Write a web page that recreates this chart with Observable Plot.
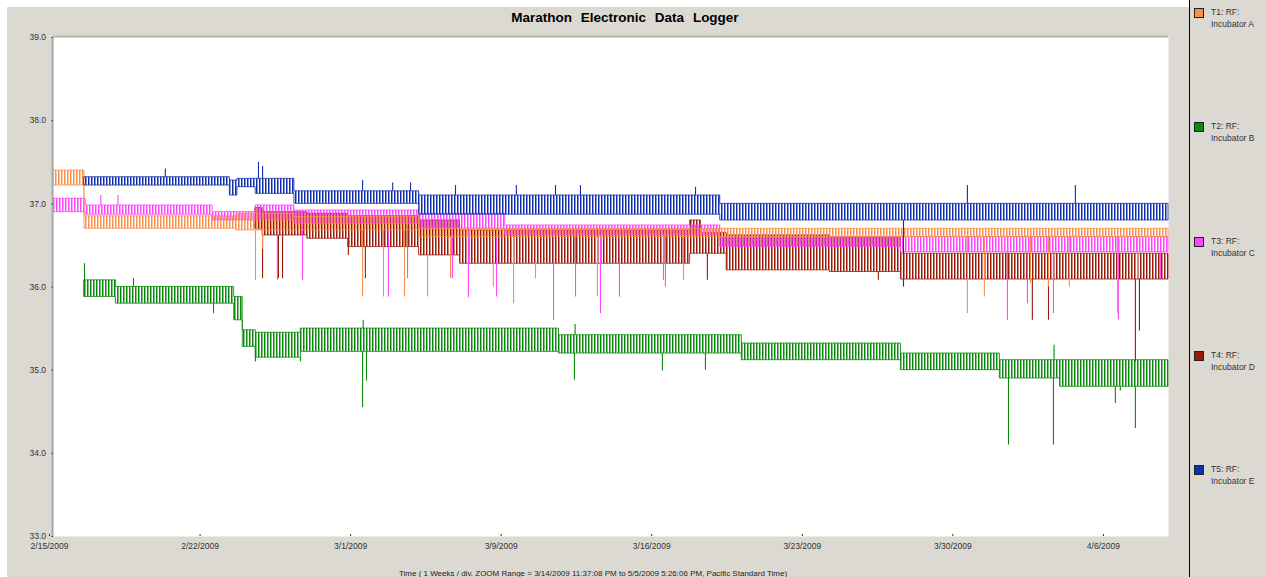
<!DOCTYPE html>
<html><head><meta charset="utf-8">
<script src="https://cdn.jsdelivr.net/npm/d3@7"></script>
<script src="https://cdn.jsdelivr.net/npm/@observablehq/plot@0.6"></script>
<style>
html,body{margin:0;padding:0;background:#fff;width:1266px;height:577px;overflow:hidden;font-family:"Liberation Sans",Arial,sans-serif;}
#panel{position:absolute;left:7px;top:7px;width:1182px;height:570px;background:#dcd9d3;}
#legendPanel{position:absolute;left:1189px;top:0;width:77px;height:577px;background:#dcd9d3;border-left:1.5px solid #000;}
#chart{position:absolute;left:0;top:0;}
#title{position:absolute;top:10px;left:0;width:1250px;text-align:center;font-weight:bold;font-size:13.5px;word-spacing:5px;color:#000;}
#caption{position:absolute;top:569px;left:0;width:1186px;text-align:center;font-size:8px;color:#222;white-space:pre;}
.lg{position:absolute;left:1194px;font-size:8.5px;color:#333;}
.lg .sw{position:absolute;left:0;top:0;width:8px;height:8px;border:1.2px solid #222;}
.lg .l1{position:absolute;left:17px;top:-1px;white-space:nowrap;}
.lg .l2{position:absolute;left:17px;top:11px;white-space:nowrap;}
</style></head>
<body>
<div id="panel"></div>
<div id="legendPanel"></div>
<div id="chart"></div>
<div id="title">Marathon  Electronic  Data  Logger</div>
<div id="caption">Time ( 1 Weeks / div. ZOOM Range = 3/14/2009 11:37:08 PM to 5/5/2009 5:26:06 PM, Pacific Standard Time)</div>
<div id="legend"></div>
<script>
// ---- data (days after 2/15/2009 00:00) ----
const startDate = "2009-02-15T00:00:00Z";
const endDay = 51.84;
const yTicks = [33, 34, 35, 36, 37, 38, 39];
const xTickDays = [0, 7, 14, 21, 28, 35, 42, 49];
const xTickLabels = ["2/15/2009", "2/22/2009", "3/1/2009", "3/9/2009", "3/16/2009", "3/23/2009", "3/30/2009", "4/6/2009"];

const seriesIds = ["T1", "T2", "T3", "T4", "T5"];
const seriesLabels = ["Incubator A", "Incubator B", "Incubator C", "Incubator D", "Incubator E"];

// bands: [startDay, endDay, low, high] of the fast on/off cycling
const t1Bands = [
  [0, 1.44, 37.22, 37.40], [1.44, 8.5, 36.70, 36.85], [8.5, 11.2, 36.68, 36.88],
  [11.2, 17.0, 36.68, 36.84], [17.0, 51.84, 36.60, 36.70]
];
const t2Bands = [
  [1.44, 2.9, 35.88, 36.08], [2.9, 8.4, 35.80, 36.00], [8.4, 8.8, 35.60, 35.88],
  [8.8, 9.4, 35.28, 35.48], [9.4, 11.5, 35.15, 35.45], [11.5, 23.5, 35.22, 35.50],
  [23.5, 32.0, 35.20, 35.42], [32.0, 39.4, 35.12, 35.32], [39.4, 44.0, 35.00, 35.20],
  [44.0, 46.8, 34.90, 35.12], [46.8, 51.84, 34.80, 35.12]
];
const t3Bands = [
  [0, 1.5, 36.90, 37.06], [1.5, 7.4, 36.87, 36.98], [7.4, 9.4, 36.80, 36.90],
  [9.4, 11.2, 36.80, 36.98], [11.2, 17.0, 36.76, 36.92], [17.0, 21.0, 36.70, 36.88],
  [21.0, 31.0, 36.62, 36.74], [31.0, 39.4, 36.48, 36.60], [39.4, 51.84, 36.42, 36.60]
];
const t4Bands = [
  [9.4, 9.72, 36.70, 36.95], [9.72, 11.8, 36.62, 36.90], [11.8, 13.7, 36.58, 36.88],
  [13.7, 17.0, 36.48, 36.85], [17.0, 18.9, 36.38, 36.80], [18.9, 29.6, 36.28, 36.68],
  [29.6, 30.1, 36.40, 36.80], [30.1, 31.3, 36.40, 36.65], [31.3, 36.1, 36.20, 36.62],
  [36.1, 39.4, 36.18, 36.60], [39.4, 51.84, 36.09, 36.40]
];
const t5Bands = [
  [1.44, 8.2, 37.22, 37.32], [8.2, 8.55, 37.10, 37.28], [8.55, 9.4, 37.20, 37.30],
  [9.4, 11.2, 37.12, 37.30], [11.2, 17.0, 37.00, 37.15], [17.0, 31.0, 36.87, 37.10],
  [31.0, 51.84, 36.80, 37.00]
];

// spikes: [day, tip value]
const t1Spikes = [
  [9.39, 36.08], [9.72, 36.45], [14.37, 35.88], [15.34, 35.88], [16.32, 35.88],
  [17.39, 35.88], [18.46, 36.10], [20.45, 36.00], [21.39, 35.80], [22.41, 36.10],
  [25.29, 35.88], [29.29, 36.08], [42.49, 35.68], [43.28, 35.88], [45.42, 36.04],
  [46.26, 36.00], [47.23, 36.00], [49.47, 35.68], [50.40, 36.10]
];
const t2Spikes = [
  [1.44, 36.28], [3.72, 36.10], [7.44, 35.68], [9.39, 35.10], [11.48, 35.10],
  [14.37, 34.55], [14.40, 35.60], [14.55, 34.87], [24.22, 34.88], [24.25, 35.55],
  [28.31, 34.99], [30.31, 35.00], [44.40, 34.10], [46.49, 34.10], [46.52, 35.30],
  [49.37, 34.60], [49.60, 34.75], [50.30, 34.30]
];
const t3Spikes = [
  [2.2, 37.10], [3.0, 37.10], [10.41, 36.08], [11.58, 36.08], [15.57, 35.88],
  [16.46, 36.10], [18.55, 36.10], [19.29, 35.87], [20.60, 35.88], [23.25, 35.60],
  [24.27, 35.88], [25.43, 35.68], [26.31, 35.88], [28.36, 36.08], [28.45, 36.00],
  [44.35, 35.60], [45.28, 35.80], [46.49, 35.68], [49.51, 35.60], [51.46, 36.08]
];
const t4Spikes = [
  [9.72, 36.10], [10.46, 36.10], [10.65, 36.10], [13.71, 36.38], [14.50, 36.10],
  [30.40, 36.08], [38.35, 36.08], [45.51, 35.60], [46.26, 35.60], [50.30, 35.10],
  [50.49, 35.47]
];
const t5Spikes = [
  [5.2, 37.42], [9.53, 37.50], [9.72, 37.45], [14.37, 37.28], [15.77, 37.25],
  [16.60, 37.25], [18.69, 37.22], [21.52, 37.22], [23.34, 37.22], [24.50, 37.22],
  [29.85, 37.20], [39.52, 36.00], [42.49, 37.22], [47.51, 37.22]
];

const colors = {T1: "#f8904c", T2: "#0a8a0a", T3: "#ff44ff", T4: "#9a1a08", T5: "#1030b0"};

// ---- build ----
const DAY = 864e5;
const t0 = new Date(startDate).getTime();
const toDate = d => new Date(t0 + d * DAY);

const bandSets = {T1: t1Bands, T2: t2Bands, T3: t3Bands, T4: t4Bands, T5: t5Bands};
const spikeSets = {T1: t1Spikes, T2: t2Spikes, T3: t3Spikes, T4: t4Spikes, T5: t5Spikes};

function bandPoints(bands) {
  const pts = [];
  for (const [a, b, lo, hi] of bands) {
    pts.push({date: toDate(a), lo, hi});
    pts.push({date: toDate(b), lo, hi});
  }
  return pts;
}
function spikeRows(id) {
  const bands = bandSets[id];
  return spikeSets[id].map(([d, tip]) => {
    const seg = bands.find(s => d >= s[0] && d <= s[1]) || bands[0];
    const base = tip < seg[2] ? seg[2] : seg[3];
    return {date: toDate(d), base, tip};
  });
}

// stripe patterns (visual texture of the rapid cycling)
const offsets = {T1: 1, T2: 0, T3: 2, T4: 0, T5: 1};
document.body.insertAdjacentHTML("afterbegin",
  `<svg width="0" height="0" style="position:absolute"><defs>${seriesIds.map(id =>
    `<pattern id="pat${id}" patternUnits="userSpaceOnUse" width="3" height="40" patternTransform="translate(${offsets[id]},0)"><rect x="0" y="0" width="1.5" height="40" fill="${colors[id]}"/></pattern>`
  ).join("")}</defs></svg>`);

const drawOrder = ["T4", "T3", "T1", "T2", "T5"];
const seriesMarks = [];
for (const id of drawOrder) {
  seriesMarks.push(Plot.areaY(bandPoints(bandSets[id]), {
    x: "date", y1: "lo", y2: "hi", fill: `url(#pat${id})`,
    stroke: colors[id], strokeWidth: 0.8
  }));
  seriesMarks.push(Plot.ruleX(spikeRows(id), {
    x: "date", y1: "base", y2: "tip", stroke: colors[id], strokeWidth: 1.1
  }));
}

const chart = Plot.plot({
  width: 1266, height: 577,
  marginLeft: 53, marginRight: 98, marginTop: 37, marginBottom: 41,
  style: {background: "transparent", fontFamily: "Liberation Sans, Arial, sans-serif", fontSize: "8.5px", color: "#333"},
  x: {type: "utc", domain: [toDate(0), toDate(endDay)]},
  y: {domain: [33, 39]},
  marks: [
    Plot.frame({fill: "white", stroke: null}),
    ...seriesMarks,
    Plot.ruleX([toDate(0)], {stroke: "#a9a9a9", strokeWidth: 2, dx: -1}),
    Plot.ruleY([39], {stroke: "#b8b6b0", strokeWidth: 2, dy: -1}),
    Plot.axisY({ticks: yTicks, tickFormat: d => d.toFixed(1), tickSize: 1.5, tickPadding: 6, label: null, stroke: "#333", fill: "#333"}),
    Plot.axisX({ticks: xTickDays.map(toDate), tickFormat: d => xTickLabels[xTickDays.indexOf(Math.round((d - t0) / DAY))], tickSize: -2, tickPadding: 8, dx: -4, label: null, fill: "#333"})
  ]
});
document.getElementById("chart").appendChild(chart);

// legend
const legend = document.getElementById("legend");
seriesIds.forEach((id, i) => {
  const top = 8 + i * 114.3;
  legend.insertAdjacentHTML("beforeend",
    `<div class="lg" style="top:${top}px"><div class="sw" style="background:${colors[id]}"></div><div class="l1">${id}: RF:</div><div class="l2">${seriesLabels[i]}</div></div>`);
});
</script>
</body></html>
